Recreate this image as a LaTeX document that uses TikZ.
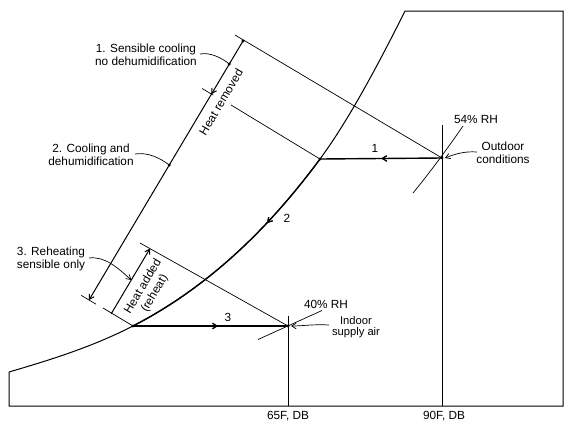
\documentclass[tikz,border=0pt]{standalone}
\usepackage{fontspec}
\setmainfont{Liberation Sans}
\usetikzlibrary{arrows.meta,decorations.markings}
\begin{document}
\begin{tikzpicture}[x=1pt,y=-1pt,
  thinline/.style={line width=0.7pt},
  scaleline/.style={line width=1pt},
  frameline/.style={line width=1pt},
  procline/.style={line width=1.4pt},
  lbl/.style={font=\fontsize{11.8}{13.5}\selectfont, inner sep=0pt, align=center},
  smalllbl/.style={font=\fontsize{11.2}{11.5}\selectfont, inner sep=0pt, align=center},
  dotmark/.style={circle, fill, inner sep=0pt, minimum size=3.2pt},
  barb/.tip={Straight Barb[length=4.5pt,width=5.5pt]},
  midarrow/.style={postaction={decorate}, decoration={markings, mark=at position #1 with {\arrow{barb}}}},
  ptr/.style={thinline, -barb}
]
\useasboundingbox (0,0) rectangle (580,421);
% key coordinates
\coordinate (lc) at (9,372);
\coordinate (bl) at (9,406);
\coordinate (br) at (563,406);
\coordinate (tr) at (563,11);
\coordinate (top) at (405,11);
\coordinate (p1) at (320,159);
\coordinate (p3) at (133,326);
\coordinate (out) at (442,158);
\coordinate (sup) at (288,326);
\coordinate (v90t) at (442,125);
\coordinate (v90b) at (442,406);
\coordinate (v65t) at (288,316);
\coordinate (v65b) at (288,406);
% frame with saturation curve
\draw[frameline] (lc) -- (bl) -- (br) -- (tr) -- (top)
  .. controls (377,67) and (348,121) .. (p1)
  .. controls (258,243) and (195,294) .. (p3)
  .. controls (92,347) and (50,360) .. (lc);
% dry bulb lines
\draw[thinline] (v90t) -- (v90b);
\draw[thinline] (v65t) -- (v65b);
% RH lines
\coordinate (rh54a) at (413,193);
\coordinate (rh54b) at (463,126);
\draw[thinline] (rh54a) .. controls (432,170) and (452,142) .. (rh54b);
\coordinate (rh40a) at (258,339.5);
\coordinate (rh40b) at (322,310.5);
\draw[thinline] (rh40a) -- (rh40b);
% projection lines
\coordinate (t1) at (235,35);
\draw[thinline] (out) -- (t1);
\coordinate (g1) at (231,105);
\draw[thinline] (p1) -- (g1);
\coordinate (k1a) at (202.1,88.5);
\coordinate (k1b) at (213.2,95.1);
\draw[thinline] (k1a) -- (k1b);
\coordinate (k0a) at (81.3,295.4);
\coordinate (k0b) at (95.9,304.1);
\draw[thinline] (k0a) -- (k0b);
\coordinate (t2) at (140,243);
\draw[thinline] (sup) -- (t2);
\coordinate (t3) at (103,308);
\draw[thinline] (p3) -- (t3);
% scale 1 (heat removed)
\coordinate (s1t) at (243,41);
\coordinate (s1b) at (89,300);
\draw[scaleline, midarrow=0.205, -barb] (s1t) -- (s1b);
\node[dotmark] (d0) at (s1t) {};
\node[dotmark] (d1) at (229.3,64) {};
\node[dotmark] (d2) at (169.3,165) {};
% scale 2 (heat added)
\coordinate (s2t) at (150,248.5);
\coordinate (s2b) at (111.2,313.8);
\draw[scaleline, -barb] (s2b) -- (s2t);
% processes
\draw[procline, midarrow=0.33] (p1) .. controls (258,243) and (195,294) .. (p3);
\draw[procline, midarrow=0.5] (out) -- (p1);
\draw[procline, midarrow=0.55] (p3) -- (sup);
\node[dotmark] (dp1) at (p1) {};
\node[dotmark] (dp3) at (p3) {};
\node[dotmark] (dout) at (out) {};
\node[dotmark] (dsup) at (sup) {};
% labels
\node[lbl] (l1) at (146,55) {1. Sensible cooling\\no dehumidification};
\node[lbl] (l2) at (91,155) {2. Cooling and\\dehumidification};
\node[lbl] (l3) at (51,259) {3. Reheating\\sensible only};
\node[lbl, rotate=59.3] (hr) at (221,102) {Heat removed};
\node[lbl, rotate=59.3] (ha) at (149,290) {Heat added\\(reheat)};
\node[lbl] (n1) at (375,148) {1};
\node[lbl] (n2) at (287,218) {2};
\node[lbl] (n3) at (228,317) {3};
\node[lbl] (r54) at (476,119) {54\% RH};
\node[lbl] (r40) at (326,304) {40\% RH};
\node[lbl] (oc) at (503,153) {Outdoor\\conditions};
\node[smalllbl] (isa) at (356,327) {Indoor\\supply air};
\node[lbl] (f65) at (288,416) {65F, DB};
\node[lbl] (f90) at (444,416) {90F, DB};
% pointers
\coordinate (c1s) at (200,54);
\draw[thinline] (c1s) .. controls (210,52) and (222,58) .. (d1.center);
\coordinate (c2s) at (135,154);
\draw[thinline] (c2s) .. controls (148,152) and (160,158) .. (d2.center);
\coordinate (c3s) at (89,258);
\coordinate (c3e) at (131.3,280);
\draw[ptr] (c3s) .. controls (105,256) and (118,268) .. (c3e);
\coordinate (cos) at (477,152);
\coordinate (coe) at (445,158);
\draw[ptr] (cos) .. controls (465,151) and (455,154) .. (coe);
\coordinate (cis) at (329,325);
\coordinate (cie) at (291,326);
\draw[ptr] (cis) .. controls (315,324) and (302,326) .. (cie);
\end{tikzpicture}
\end{document}
